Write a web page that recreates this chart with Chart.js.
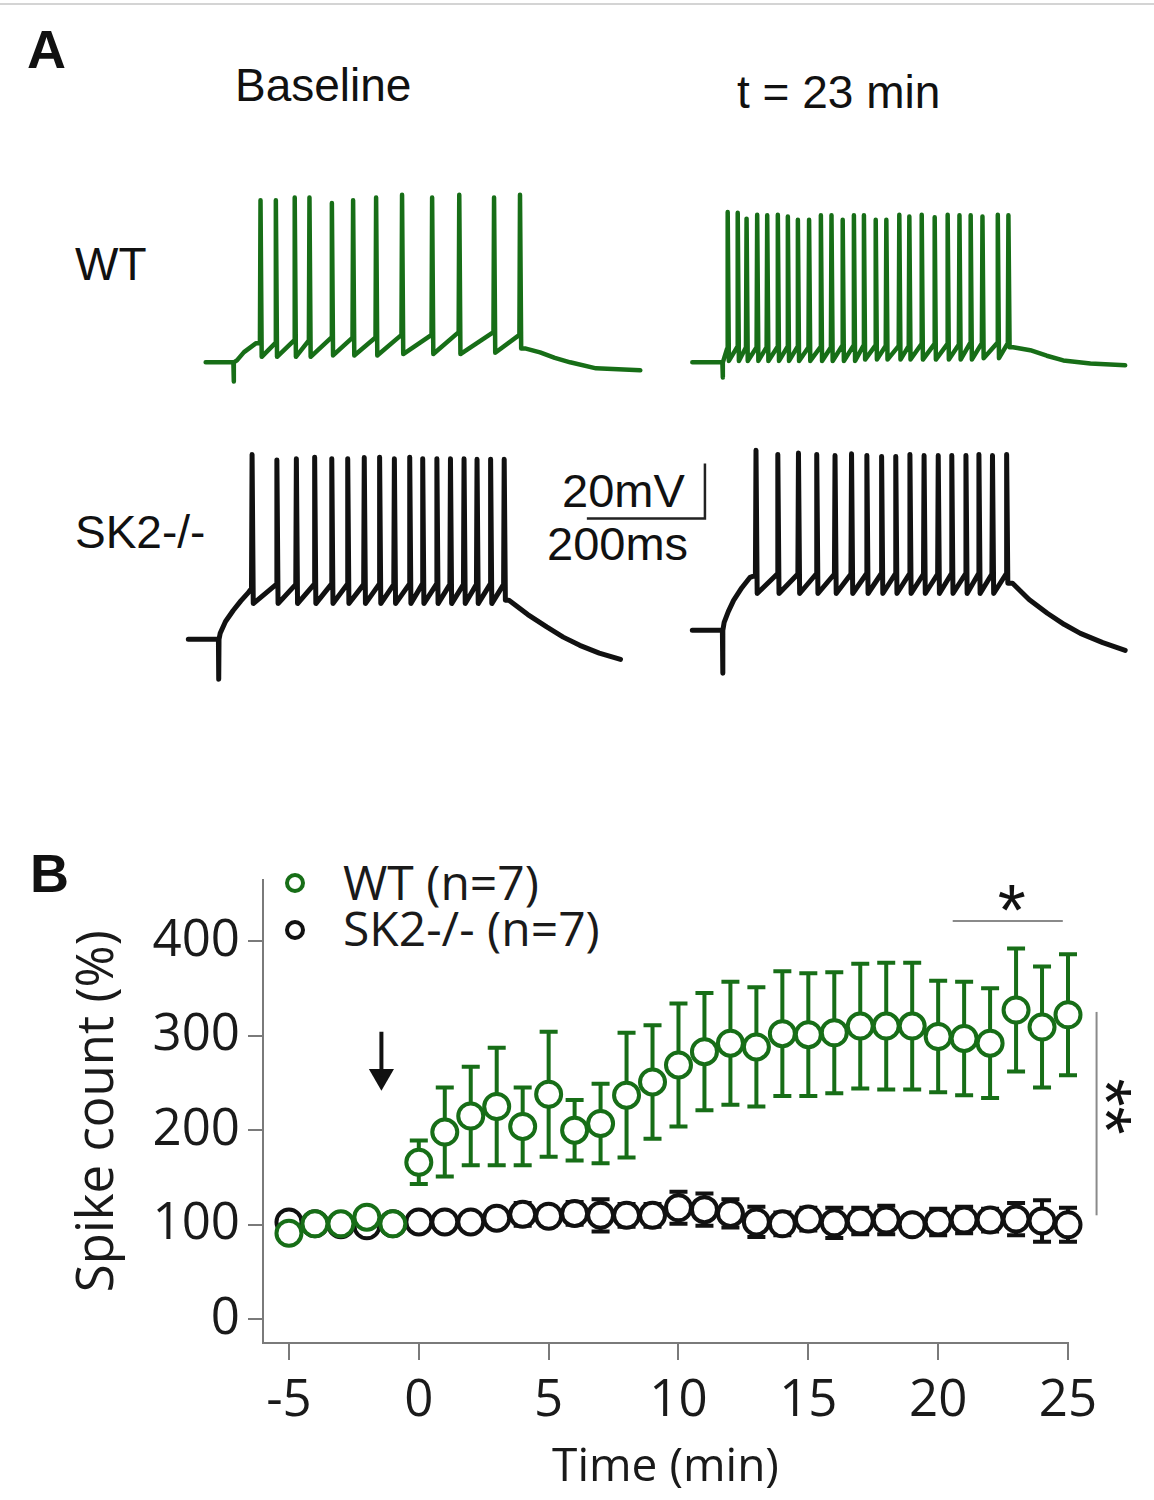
<!DOCTYPE html>
<html>
<head>
<meta charset="utf-8">
<title>SK2 spike count</title>
<script src="https://cdn.jsdelivr.net/npm/chart.js@4.4.1/dist/chart.umd.min.js"></script>
<style>
  html, body { margin: 0; padding: 0; background: #fff; }
  body { position: relative; width: 1154px; height: 1500px; overflow: hidden;
         font-family: "Liberation Sans", Arial, sans-serif; color: #111; }
  .lbl { position: absolute; white-space: nowrap; line-height: 1; }
  .os { font-family: "Open Sans", sans-serif; color: #1a1a1a; }
  canvas { position: absolute; }
  .mk { position: absolute; width: 20px; height: 20px; box-sizing: border-box;
        border: 4px solid; border-radius: 50%; }
</style>
</head>
<body>
<div style="position:absolute;left:0;top:3px;width:1154px;border-top:2px solid #d4d4d4"></div>
<div class="lbl" style="left:27px;top:22px;font-size:54px;font-weight:bold">A</div>
<div class="lbl" style="left:235px;top:62px;font-size:46px">Baseline</div>
<div class="lbl" style="left:737px;top:69px;font-size:46px">t = 23 min</div>
<div class="lbl" style="left:75px;top:241px;font-size:46px">WT</div>
<div class="lbl" style="left:75px;top:509px;font-size:46px">SK2-/-</div>
<div class="lbl" style="left:562px;top:467px;font-size:47px">20mV</div>
<div class="lbl" style="left:547px;top:520px;font-size:47px">200ms</div>

<div class="lbl" style="left:30px;top:846px;font-size:54px;font-weight:bold">B</div>
<div class="mk" style="left:285px;top:873px;border-color:#176e17"></div>
<div class="lbl os" style="left:343px;top:858px;font-size:48px">WT (n=7)</div>
<div class="mk" style="left:285px;top:920px;border-color:#111"></div>
<div class="lbl os" style="left:343px;top:904px;font-size:48px">SK2-/- (n=7)</div>

<canvas id="wtBase"></canvas>
<canvas id="wt23"></canvas>
<canvas id="skBase"></canvas>
<canvas id="sk23"></canvas>
<canvas id="summary" width="1154" height="670" style="left:0;top:830px"></canvas>

<script>
const GREEN = '#176e17';
const BLACK = '#111';
const AXIS = '#7a7a7a';

// ---- Panel A: example traces (ms from step onset, mV) ----
// WT, baseline
const wtBaseSpikeT = [45, 71, 103, 128, 166, 202, 241, 285, 336, 382, 441, 485];
const wtBasePeakV = [-11, -11, -10, -10, -12, -11, -10, -9, -10, -9, -10, -9];
const wtBasePreV = [-63, -63, -62, -62, -61, -61, -61, -60, -60, -59, -59, -60];
const wtBaseAhpV = [-68, -68, -68, -68, -67.5, -67.5, -67.5, -67, -67, -67, -66.5, -65];
const wtBaseOnsetT = [6, 18, 38];
const wtBaseOnsetV = [-69.3, -66.3, -63.1];
const wtBaseDecayT = [496, 520, 545, 571, 615, 690];
const wtBaseDecayV = [-65, -66.4, -68.4, -70, -72.2, -72.9];

// WT, t = 23 min
const wt23SpikeT = [8, 25, 40, 58, 75, 93, 110, 127, 146, 166, 184, 203, 222, 239, 259, 277,
                    299, 316, 337, 359, 381, 401, 420, 440, 466, 484];
const wt23PeakV = [-15.3, -15.6, -17.7, -16.3, -16.5, -16.3, -16.9, -18.1, -18.1, -16.5, -16.5,
                   -18.1, -16.5, -16.5, -18.1, -18.1, -16.3, -16.9, -16.3, -17.2, -16.3, -16.5,
                   -16.5, -16.9, -16.3, -16.5];
const wt23PreV = [-65, -64.5, -64.5, -64.5, -64.5, -64.5, -64.5, -64.5, -64.5, -64.5, -64.5, -64,
                  -64, -64, -64, -64, -64, -64, -63.5, -63.5, -63.5, -63.5, -63, -63, -63, -63];
const wt23AhpV = [-69.5, -69.5, -69.5, -69.5, -69.5, -69.5, -69.5, -69.5, -69.5, -69.5, -69.5, -69.5,
                  -69.5, -69, -69, -69, -69, -69, -69, -69, -69, -69, -69, -68.5, -68.5, -64.5];
const wt23OnsetT = [3];
const wt23OnsetV = [-68.5];
const wt23DecayT = [493, 522, 550, 578, 624, 683];
const wt23DecayV = [-64.5, -65.6, -67.6, -69.3, -70.4, -71.1];

// SK2-/-, baseline
const skBaseSpikeT = [56, 98, 131, 162, 191, 218, 246, 272, 297, 323, 345, 369, 392, 415, 437, 460, 483];
const skBasePeakV = [-2.7, -4.7, -4.3, -3.7, -4.3, -4.3, -3.8, -3.7, -4.3, -3.7, -4.3, -4.3, -4.3,
                     -4.3, -4.5, -4.5, -4.5];
const skBasePreV = [-51.5, -50, -50, -50, -50, -50, -50, -50, -50, -50, -50, -50, -50, -50, -50, -50, -50];
const skBaseAhpV = [-57, -57, -57, -57, -57, -57, -57, -57, -57, -57, -57, -57, -57, -57, -57, -57, -55.8];
const skBaseOnsetT = [3, 12, 25, 38, 51];
const skBaseOnsetV = [-67.8, -63.5, -59.5, -56, -52.9];
const skBaseDecayT = [492, 524, 556, 584, 612, 645, 681];
const skBaseDecayV = [-55.8, -61, -65.5, -69.2, -72.2, -75, -77.3];

// SK2-/-, t = 23 min
const sk23SpikeT = [56, 93, 128, 159, 190, 218, 244, 269, 293, 317, 341, 365, 388, 412, 434, 457, 481];
const sk23PeakV = [-4.5, -6, -5.5, -6, -6.4, -5.7, -6.4, -6.7, -6.7, -6, -6.4, -6.4, -6.4, -6.4,
                   -6, -6.4, -6];
const sk23PreV = [-50, -49.5, -49.5, -49.5, -49.5, -49.5, -49.5, -49.5, -49.5, -49.5, -49.5, -49.5,
                  -49.5, -49.5, -49.5, -49.5, -49.5];
const sk23AhpV = [-56.6, -56.6, -56.6, -56.6, -56.6, -56.6, -56.6, -56.6, -56.6, -56.6, -56.6, -56.6,
                  -56.6, -56.6, -56.6, -56.6, -52.9];
const sk23OnsetT = [3, 10, 19, 33, 47];
const sk23OnsetV = [-67.1, -63.2, -59.1, -54.5, -50.7];
const sk23DecayT = [492, 520, 551, 580, 607, 645, 683];
const sk23DecayV = [-52.9, -58.8, -63.8, -67.9, -71.1, -74.5, -77.3];

const restV = -70;
const artifactV = [-77, -75.5, -84.5, -85.6];   // wtBase, wt23, skBase, sk23
const traceStartT = [-47, -51, -51, -51];

// scale bar
const scaleBarMs = 200;
const scaleBarMv = 20;
const scaleBarCornerT = 824;
const scaleBarCornerV = -26;

// ---- Panel B: normalised spike count ----
const timeMin = [-5, -4, -3, -2, -1, 0, 1, 2, 3, 4, 5, 6, 7, 8, 9, 10, 11, 12, 13, 14, 15, 16, 17, 18,
                 19, 20, 21, 22, 23, 24, 25];
const wtMean = [91, 101, 101, 108, 101, 166, 198, 215, 225, 204, 238, 200, 207, 237, 251, 269, 283,
                292, 288, 302, 301, 303, 310, 310, 310, 299, 297, 292, 327, 309, 322];
const wtSem = [6, 5, 5, 6, 5, 23, 47, 52, 62, 41, 66, 32, 42, 66, 60, 65, 62, 65, 63, 66, 65, 64,
               66, 67, 67, 59, 60, 58, 65, 64, 64];
const skMean = [103, 101, 100, 99, 101, 103, 103, 103, 107, 111, 109, 112, 110, 110, 110, 118, 116,
                112, 103, 101, 106, 102, 104, 105, 100, 103, 105, 105, 106, 104, 100];
const skSem = [5, 5, 5, 5, 5, 8, 8, 8, 10, 12, 10, 12, 17, 12, 12, 17, 17, 15, 16, 12, 12, 16, 14,
               15, 10, 14, 14, 12, 17, 22, 18];
const xTickVals = [-5, 0, 5, 10, 15, 20, 25];
const yTickVals = [0, 100, 200, 300, 400];

// annotations (data units)
const arrowT = -1.44;
const arrowTopV = 304;
const arrowHeadV = 257;
const sigBarT = [20.56, 24.8];
const sigBarV = 421;
const sigStarT = 22.83;
const sigStarV = 450;
const sigSideT = 26.1;
const sigSideV = [110, 325];
const sigSideStarT = 27.1;
const sigSideStarV = 225;

// ---------------------------------------------------------------
const PX_PER_MS = 0.59;
const PX_PER_MV = 2.75;
const T_MIN = -60, V_MIN = -95, V_MAX = 0;

function traceData(i, spikeT, peakV, preV, ahpV, onsetT, onsetV, decayT, decayV) {
  const pts = [
    {x: traceStartT[i], y: restV}, {x: 0, y: restV},
    {x: 0.5, y: artifactV[i]}, {x: 1, y: restV}
  ];
  onsetT.forEach((t, k) => pts.push({x: t, y: onsetV[k]}));
  spikeT.forEach((t, k) => {
    pts.push({x: t, y: preV[k]}, {x: t + 1, y: peakV[k]}, {x: t + 3, y: ahpV[k]});
  });
  decayT.forEach((t, k) => pts.push({x: t, y: decayV[k]}));
  return pts;
}

function drawTrace(id, pts, color, width, stepX, restY, tMax, extra) {
  const canvas = document.getElementById(id);
  canvas.width = Math.round((tMax - T_MIN) * PX_PER_MS);
  canvas.height = Math.round((V_MAX - V_MIN) * PX_PER_MV);
  canvas.style.left = (stepX + T_MIN * PX_PER_MS) + 'px';
  canvas.style.top = (restY - (V_MAX - restV) * PX_PER_MV) + 'px';
  const datasets = [{
    data: pts, borderColor: color, borderWidth: width, pointRadius: 0,
    borderJoinStyle: 'round', borderCapStyle: 'round', tension: 0, clip: false
  }].concat(extra || []);
  return new Chart(canvas, {
    type: 'line',
    data: {datasets},
    options: {
      responsive: false, animation: false, events: [],
      layout: {padding: 0},
      plugins: {legend: {display: false}, tooltip: {enabled: false}},
      scales: {
        x: {type: 'linear', display: false, min: T_MIN, max: tMax},
        y: {type: 'linear', display: false, min: V_MIN, max: V_MAX}
      }
    }
  });
}

drawTrace('wtBase',
  traceData(0, wtBaseSpikeT, wtBasePeakV, wtBasePreV, wtBaseAhpV, wtBaseOnsetT, wtBaseOnsetV, wtBaseDecayT, wtBaseDecayV),
  GREEN, 4.5, 233, 362, 720);
drawTrace('wt23',
  traceData(1, wt23SpikeT, wt23PeakV, wt23PreV, wt23AhpV, wt23OnsetT, wt23OnsetV, wt23DecayT, wt23DecayV),
  GREEN, 4.5, 722, 362, 720);
drawTrace('skBase',
  traceData(2, skBaseSpikeT, skBasePeakV, skBasePreV, skBaseAhpV, skBaseOnsetT, skBaseOnsetV, skBaseDecayT, skBaseDecayV),
  BLACK, 5, 218, 639, 880, [{
    data: [
      {x: scaleBarCornerT - scaleBarMs, y: scaleBarCornerV},
      {x: scaleBarCornerT, y: scaleBarCornerV},
      {x: scaleBarCornerT, y: scaleBarCornerV + scaleBarMv}
    ],
    borderColor: '#222', borderWidth: 2.5, pointRadius: 0, borderJoinStyle: 'miter', clip: false
  }]);
drawTrace('sk23',
  traceData(3, sk23SpikeT, sk23PeakV, sk23PreV, sk23AhpV, sk23OnsetT, sk23OnsetV, sk23DecayT, sk23DecayV),
  BLACK, 5, 722, 630, 720);

// ---- Panel B chart ----
const errorBars = {
  id: 'errorBars',
  beforeDatasetsDraw(chart) {
    const {ctx, scales: {x, y}} = chart;
    chart.data.datasets.forEach(ds => {
      if (!ds.errors) return;
      ctx.save();
      ctx.strokeStyle = ds.borderColor;
      ctx.lineWidth = 4;
      ds.data.forEach((p, j) => {
        const e = ds.errors[j];
        const px = x.getPixelForValue(p.x);
        const top = y.getPixelForValue(p.y + e);
        const bot = y.getPixelForValue(p.y - e);
        ctx.beginPath();
        ctx.moveTo(px, top); ctx.lineTo(px, bot);
        ctx.moveTo(px - 9, top); ctx.lineTo(px + 9, top);
        ctx.moveTo(px - 9, bot); ctx.lineTo(px + 9, bot);
        ctx.stroke();
      });
      ctx.restore();
    });
  }
};

const stars = {
  id: 'stars',
  afterDatasetsDraw(chart) {
    const {ctx, scales: {x, y}} = chart;
    const size = 72;
    ctx.save();
    ctx.fillStyle = BLACK;
    ctx.font = size + 'px "Liberation Sans"';
    ctx.textAlign = 'center';
    ctx.textBaseline = 'alphabetic';
    ctx.fillText('*', x.getPixelForValue(sigStarT), y.getPixelForValue(sigStarV) + size * 0.57);
    ctx.translate(x.getPixelForValue(sigSideStarT) - size * 0.57, y.getPixelForValue(sigSideStarV));
    ctx.rotate(Math.PI / 2);
    ctx.fillText('**', 0, 0);
    ctx.restore();
  }
};

const tickFont = {family: 'Open Sans', size: 51};

new Chart(document.getElementById('summary'), {
  type: 'scatter',
  data: {
    datasets: [
      {
        label: 'WT (n=7)', data: timeMin.map((t, i) => ({x: t, y: wtMean[i]})), errors: wtSem,
        borderColor: GREEN, pointBorderColor: GREEN, pointBackgroundColor: '#fff',
        pointRadius: 12.5, pointBorderWidth: 4, clip: false
      },
      {
        label: 'SK2-/- (n=7)', data: timeMin.map((t, i) => ({x: t, y: skMean[i]})), errors: skSem,
        borderColor: BLACK, pointBorderColor: BLACK, pointBackgroundColor: '#fff',
        pointRadius: 12.5, pointBorderWidth: 4, clip: false
      },
      {
        type: 'line', data: [{x: arrowT, y: arrowTopV}, {x: arrowT, y: arrowHeadV}],
        borderColor: BLACK, borderWidth: 4, pointRadius: 0, clip: false
      },
      {
        data: [{x: arrowT, y: arrowHeadV}], pointStyle: 'triangle', pointRotation: 180,
        pointRadius: 14.5, pointBackgroundColor: BLACK, pointBorderColor: BLACK, pointBorderWidth: 0, clip: false
      },
      {
        type: 'line', data: sigBarT.map(t => ({x: t, y: sigBarV})),
        borderColor: '#8a8a8a', borderWidth: 2, pointRadius: 0, clip: false
      },
      {
        type: 'line', data: sigSideV.map(v => ({x: sigSideT, y: v})),
        borderColor: '#8a8a8a', borderWidth: 2, pointRadius: 0, clip: false
      }
    ]
  },
  options: {
    responsive: false, animation: false, events: [],
    layout: {padding: {left: 40, top: 49.5, right: 86, bottom: 0}},
    plugins: {legend: {display: false}, tooltip: {enabled: false}},
    scales: {
      x: {
        type: 'linear', min: -6, max: 25,
        afterBuildTicks: s => { s.ticks = xTickVals.map(v => ({value: v})); },
        afterFit: s => { s.height = 157; },
        border: {display: true, color: AXIS, width: 2},
        grid: {display: true, drawOnChartArea: false, drawTicks: true, tickLength: 17, color: AXIS, lineWidth: 2},
        ticks: {font: tickFont, color: '#1a1a1a', padding: 11, maxRotation: 0, autoSkip: false},
        title: {display: true, text: 'Time (min)', color: '#1a1a1a',
                font: {family: 'Open Sans', size: 46, lineHeight: 1}, padding: {top: 0, bottom: 9.5}}
      },
      y: {
        type: 'linear', min: -25, max: 465,
        afterBuildTicks: s => { s.ticks = yTickVals.map(v => ({value: v})); },
        afterFit: s => { s.width = 223; },
        border: {display: true, color: AXIS, width: 2},
        grid: {display: true, drawOnChartArea: false, drawTicks: true, tickLength: 15, color: AXIS, lineWidth: 2},
        ticks: {font: tickFont, color: '#1a1a1a', padding: 8},
        title: {display: true, text: 'Spike count (%)', color: '#1a1a1a',
                font: {family: 'Open Sans', size: 51, lineHeight: 1}, padding: {top: 33, bottom: 0}}
      }
    }
  },
  plugins: [errorBars, stars]
});
</script>
</body>
</html>
